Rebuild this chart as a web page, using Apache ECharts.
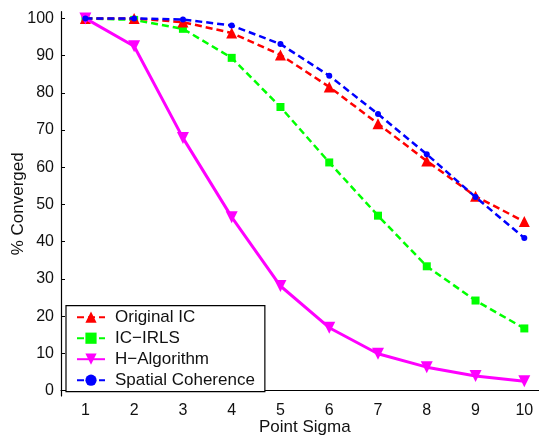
<!DOCTYPE html>
<html><head><meta charset="utf-8">
<script src="https://cdn.jsdelivr.net/npm/echarts@6/dist/echarts.min.js"></script>
<style>html,body{margin:0;padding:0;background:#fff}#c{width:539px;height:438px}</style>
</head><body><div id="c"></div>
<script>
const categories = ['1','2','3','4','5','6','7','8','9','10'];
const yTicks = [0,10,20,30,40,50,60,70,80,90,100];
const originalIC = [100, 100, 99, 96.1, 90.2, 81.6, 71.7, 61.7, 52.2, 45.4];
const icIRLS = [100, 99.6, 97.2, 89.4, 76.2, 61.3, 47.0, 33.4, 24.2, 16.7];
const hAlgorithm = [100, 92.5, 67.9, 46.6, 28.1, 16.9, 9.9, 6.3, 3.9, 2.5];
const spatialCoherence = [100, 100, 99.7, 98.1, 93.1, 84.6, 74.3, 63.5, 52.0, 41.0];

const font = 'Liberation Sans, Arial, Helvetica, sans-serif';
const chart = echarts.init(document.getElementById('c'), null, {renderer:'canvas'});
const dash = [7,4];
chart.setOption({
  animation:false,
  backgroundColor:'#fff',
  grid:{left:61, top:11.7, width:487.7, height:384.3, containLabel:false, outerBoundsMode:'none'},
  xAxis:{
    type:'category', data:categories, boundaryGap:true,
    name:'Point Sigma', nameLocation:'middle', nameGap:23, nameMoveOverlap:false,
    nameTextStyle:{fontFamily:font, fontSize:17, color:'#111'},
    axisLine:{lineStyle:{color:'#000', width:1.2}},
    axisTick:{inside:true, alignWithLabel:true, length:4, lineStyle:{color:'#000'}},
    axisLabel:{fontFamily:font, fontSize:16, color:'#111', margin:7},
    splitLine:{show:false}
  },
  yAxis:{
    type:'value', min:-1.45, max:101.8,
    name:'% Converged', nameLocation:'middle', nameGap:34, nameMoveOverlap:false,
    nameTextStyle:{fontFamily:font, fontSize:17, color:'#111'},
    axisLine:{show:true, lineStyle:{color:'#000', width:1.2}},
    axisTick:{show:true, inside:true, length:4, lineStyle:{color:'#000'}, customValues:yTicks},
    axisLabel:{fontFamily:font, fontSize:16, color:'#111', margin:7, customValues:yTicks},
    splitLine:{show:false}
  },
  legend:{
    orient:'vertical', left:66, top:305.7,
    backgroundColor:'#fff', borderColor:'#000', borderWidth:1.2,
    padding:[3,10,3,10], itemGap:4, itemWidth:28, itemHeight:14,
    textStyle:{fontFamily:font, fontSize:17, color:'#111', padding:[0,0,0,5]},
    data:['Original IC','IC\u2212IRLS','H\u2212Algorithm','Spatial Coherence']
  },
  series:[
    {name:'Original IC', type:'line', data:originalIC, symbol:'triangle', symbolSize:11,
     itemStyle:{color:'#ff0000'}, lineStyle:{color:'#ff0000', width:2.5, type:dash}, z:3},
    {name:'IC\u2212IRLS', type:'line', data:icIRLS, symbol:'rect', symbolSize:8,
     itemStyle:{color:'#00ff00'}, lineStyle:{color:'#00ff00', width:2.5, type:dash}, z:2},
    {name:'H\u2212Algorithm', type:'line', data:hAlgorithm, symbol:'triangle', symbolRotate:180, symbolSize:12,
     itemStyle:{color:'#ff00ff'}, lineStyle:{color:'#ff00ff', width:3}, z:4},
    {name:'Spatial Coherence', type:'line', data:spatialCoherence, symbol:'circle', symbolSize:6,
     itemStyle:{color:'#0000ff'}, lineStyle:{color:'#0000ff', width:2.5, type:dash}, z:5}
  ]
});
</script></body></html>
